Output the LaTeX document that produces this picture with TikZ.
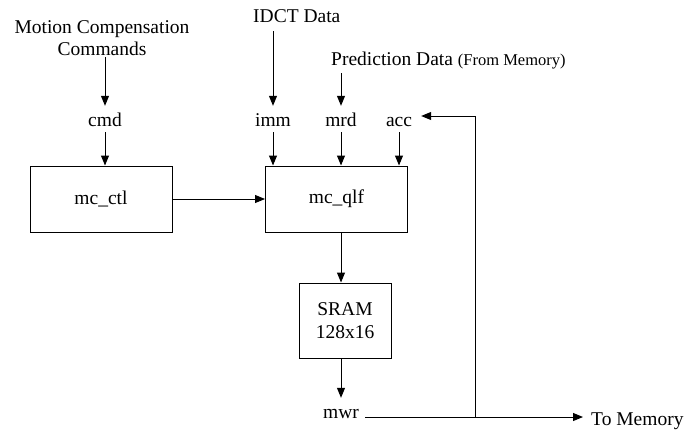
\documentclass[tikz,border=0pt]{standalone}
\usepackage{fontspec}
\setmainfont{Liberation Serif}
\usetikzlibrary{arrows.meta}
\begin{document}
\begin{tikzpicture}[x=1pt,y=-1pt,
  every node/.style={font=\fontsize{19.5}{22}\selectfont, inner sep=0pt},
  arr/.style={-{Triangle[length=10pt,width=8pt]}, line width=1pt},
  ln/.style={line width=1pt},
  lbl/.style={inner xsep=1pt, inner ysep=6pt, text height=14pt, text depth=0pt, anchor=base},
  blk/.style={draw, line width=1pt, minimum width=142pt, minimum height=66pt},
]
\useasboundingbox (0,0) rectangle (686,431);

% top texts
\node[anchor=south, align=center] (title) at (102,56) {Motion Compensation\\Commands};
\node[anchor=base west] (idct) at (253,23) {IDCT Data};
\node[anchor=base west] (pred) at (331,65) {Prediction Data {\fontsize{16.5}{20}\selectfont (From Memory)}};

% port labels
\node[lbl] (cmd) at (105,126) {cmd};
\node[lbl] (imm) at (273,126) {imm};
\node[lbl] (mrd) at (341,126) {mrd};
\node[lbl] (acc) at (399,126) {acc};

% blocks
\node[blk] (ctl) at (101,199) {mc\_ctl};
\node[blk] (qlf) at (336.5,199) {mc\_qlf};
\node[draw, line width=1pt, minimum width=92pt, minimum height=75pt, align=center,
      font=\fontsize{19.5}{23}\selectfont] (sram) at (345,320.5) {SRAM\\128x16};

\node[lbl] (mwr) at (341,418) {mwr};
\node[anchor=base west] (tomem) at (591,425) {To Memory};

\coordinate (jn) at (475,417);
\coordinate (accin) at (475,116);

% input arrows
\draw[arr] ([yshift=-1pt]title.south -| cmd) -- (cmd.north);
\draw[arr] ([yshift=-8pt]idct.base -| imm) -- (imm.north);
\draw[arr] ([yshift=-8pt]pred.base -| mrd) -- (mrd.north);

% ports into blocks
\draw[arr] (cmd.south) -- (cmd.south |- ctl.north);
\draw[arr] (imm.south) -- (imm.south |- qlf.north);
\draw[arr] (mrd.south) -- (mrd.south |- qlf.north);
\draw[arr] (acc.south) -- (acc.south |- qlf.north);

% block connections
\draw[arr] (ctl.east) -- (qlf.west);
\draw[arr] (mrd |- qlf.south) -- (mrd |- sram.north);
\draw[arr] (mrd |- sram.south) -- (mwr.north);

% output and feedback
\draw[arr, shorten >=8pt] ([xshift=5pt]mwr.base east |- jn) -- (jn -| tomem.west);
\draw[ln] (jn) -- (accin);
\draw[arr, shorten >=8pt] (accin) -- (accin -| acc.east);
\end{tikzpicture}
\end{document}
